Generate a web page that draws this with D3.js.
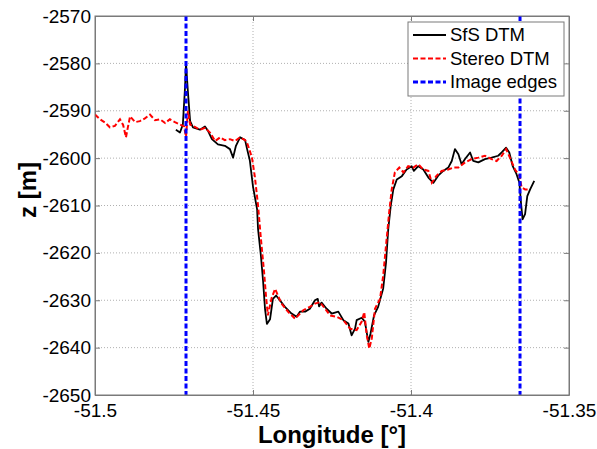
<!DOCTYPE html>
<html>
<head>
<meta charset="utf-8">
<script src="https://cdn.jsdelivr.net/npm/d3@7/dist/d3.min.js"></script>
<style>
html,body{margin:0;padding:0;background:#fff;}
svg{display:block;font-family:"Liberation Sans",Arial,sans-serif;}
</style>
</head>
<body>
<svg id="chart" width="597" height="449"></svg>
<script>
// ---- data ----
const xTicks = [-51.5, -51.45, -51.4, -51.35];
const xTickLabels = ["-51.5", "-51.45", "-51.4", "-51.35"];
const yTicks = [-2650, -2640, -2630, -2620, -2610, -2600, -2590, -2580, -2570];
const seriesNames = ["SfS DTM", "Stereo DTM", "Image edges"];
const imageEdges = [-51.4712, -51.3655];

const sfsLon = [-51.4744,-51.4731,-51.4722,-51.4715,-51.4712,-51.4706,-51.4699,-51.4690,-51.4668,-51.4652,-51.4642,-51.4630,-51.4611,-51.4589,-51.4573,-51.4563,-51.4554,-51.4541,-51.4525,-51.4519,-51.4510,-51.4500,-51.4487,-51.4484,-51.4475,-51.4468,-51.4462,-51.4456,-51.4446,-51.4437,-51.4427,-51.4415,-51.4399,-51.4378,-51.4362,-51.4351,-51.4335,-51.4320,-51.4304,-51.4295,-51.4291,-51.4283,-51.4267,-51.4251,-51.4230,-51.4214,-51.4198,-51.4188,-51.4177,-51.4172,-51.4156,-51.4146,-51.4135,-51.4128,-51.4117,-51.4104,-51.4088,-51.4079,-51.4072,-51.4064,-51.4056,-51.4045,-51.4029,-51.4014,-51.3998,-51.3991,-51.3977,-51.3961,-51.3945,-51.3929,-51.3914,-51.3898,-51.3882,-51.3871,-51.3861,-51.3850,-51.3840,-51.3829,-51.3813,-51.3803,-51.3787,-51.3766,-51.3745,-51.3724,-51.3713,-51.3699,-51.3689,-51.3678,-51.3666,-51.3657,-51.3652,-51.3647,-51.3639,-51.3632,-51.3623,-51.3610];
const sfsZ = [-2594.0,-2594.6,-2592.9,-2585.0,-2580.0,-2586.0,-2592.2,-2593.5,-2594.0,-2593.3,-2594.3,-2596.0,-2597.1,-2597.4,-2598.1,-2599.9,-2597.4,-2595.6,-2596.2,-2598.0,-2600.5,-2606.0,-2610.8,-2615.0,-2620.6,-2626.0,-2631.8,-2635.0,-2634.0,-2629.7,-2629.0,-2630.0,-2631.4,-2632.8,-2633.5,-2632.4,-2632.4,-2631.8,-2630.0,-2629.7,-2631.3,-2630.5,-2631.8,-2632.8,-2632.4,-2634.2,-2634.9,-2637.4,-2636.0,-2634.2,-2633.7,-2634.5,-2638.8,-2637.0,-2633.2,-2631.4,-2627.5,-2622.0,-2615.0,-2610.0,-2606.6,-2604.5,-2603.8,-2602.4,-2601.7,-2602.7,-2601.7,-2602.4,-2604.1,-2605.2,-2603.7,-2602.7,-2602.0,-2600.6,-2598.1,-2599.2,-2601.3,-2600.2,-2598.8,-2600.6,-2600.9,-2600.2,-2599.9,-2599.5,-2598.8,-2597.8,-2598.8,-2601.7,-2603.4,-2605.2,-2609.4,-2612.9,-2611.8,-2608.0,-2606.6,-2604.8];

const stereoLon = [-51.5000,-51.4984,-51.4968,-51.4953,-51.4937,-51.4921,-51.4911,-51.4902,-51.4896,-51.4889,-51.4873,-51.4858,-51.4842,-51.4826,-51.4810,-51.4794,-51.4778,-51.4763,-51.4747,-51.4731,-51.4718,-51.4712,-51.4706,-51.4699,-51.4684,-51.4668,-51.4652,-51.4636,-51.4620,-51.4604,-51.4589,-51.4573,-51.4557,-51.4541,-51.4525,-51.4519,-51.4510,-51.4503,-51.4494,-51.4484,-51.4475,-51.4465,-51.4459,-51.4453,-51.4441,-51.4430,-51.4421,-51.4410,-51.4388,-51.4367,-51.4341,-51.4320,-51.4304,-51.4288,-51.4272,-51.4256,-51.4235,-51.4214,-51.4193,-51.4172,-51.4156,-51.4148,-51.4140,-51.4132,-51.4124,-51.4114,-51.4098,-51.4088,-51.4077,-51.4069,-51.4061,-51.4051,-51.4037,-51.4024,-51.4009,-51.3993,-51.3977,-51.3961,-51.3945,-51.3934,-51.3919,-51.3903,-51.3882,-51.3866,-51.3850,-51.3829,-51.3808,-51.3787,-51.3766,-51.3745,-51.3729,-51.3713,-51.3699,-51.3687,-51.3671,-51.3657,-51.3650,-51.3639,-51.3623];
const stereoZ = [-2590.8,-2591.8,-2592.5,-2593.5,-2593.2,-2591.8,-2593.0,-2595.6,-2593.5,-2591.2,-2592.4,-2592.2,-2591.6,-2590.8,-2592.0,-2591.8,-2592.6,-2591.8,-2592.4,-2592.9,-2593.3,-2595.6,-2590.0,-2592.9,-2593.4,-2594.0,-2593.6,-2594.6,-2596.4,-2595.6,-2596.2,-2596.0,-2596.4,-2595.6,-2596.2,-2596.7,-2598.5,-2600.0,-2604.0,-2610.0,-2617.0,-2624.0,-2629.0,-2633.2,-2629.5,-2627.6,-2629.0,-2630.7,-2632.5,-2633.9,-2632.1,-2631.4,-2630.7,-2630.4,-2631.8,-2633.2,-2633.5,-2634.2,-2636.0,-2636.3,-2634.5,-2632.5,-2637.4,-2640.2,-2638.0,-2631.8,-2629.7,-2624.8,-2617.0,-2611.4,-2606.6,-2603.0,-2602.0,-2603.0,-2601.7,-2602.0,-2601.3,-2602.4,-2602.7,-2605.2,-2603.7,-2602.7,-2602.4,-2602.0,-2602.0,-2600.9,-2600.2,-2599.9,-2599.5,-2600.2,-2600.6,-2599.5,-2598.1,-2599.9,-2602.4,-2603.7,-2606.2,-2606.6,-2606.6];

// ---- layout ----
const svg = d3.select("#chart");
const L = 95, R = 569, T = 16, B = 395;
const x = d3.scaleLinear().domain([-51.5, -51.35]).range([L, R]);
const y = d3.scaleLinear().domain([-2650, -2570]).range([B, T]);
const gridColor = "#b0b0b0", axisColor = "#7a7a7a";

// grid
const grid = svg.append("g");
grid.selectAll("line.vx").data(xTicks.slice(1, -1)).join("line")
  .attr("x1", d => x(d)).attr("x2", d => x(d)).attr("y1", T).attr("y2", B)
  .attr("stroke", gridColor).attr("stroke-width", 1).attr("stroke-dasharray", "1,2");
grid.selectAll("line.hy").data(yTicks.slice(1, -1)).join("line")
  .attr("x1", L).attr("x2", R).attr("y1", d => y(d)).attr("y2", d => y(d))
  .attr("stroke", gridColor).attr("stroke-width", 1).attr("stroke-dasharray", "1,2");

// axes (ticks inward on all sides)
function styleAxis(g) {
  g.selectAll("path").attr("stroke", axisColor);
  g.selectAll("line").attr("stroke", axisColor);
  g.selectAll("text").attr("fill", "#000").style("font-size", "19px")
    .style("font-family", '"Liberation Sans", Arial, sans-serif');
}
const xAxis = svg.append("g").attr("transform", `translate(0,${B})`)
  .call(d3.axisBottom(x).tickValues(xTicks).tickFormat((d, i) => xTickLabels[i]).tickSizeInner(-5).tickSizeOuter(0));
styleAxis(xAxis);
xAxis.selectAll("text").attr("y", 22).attr("dy", null);
const xAxisTop = svg.append("g").attr("transform", `translate(0,${T})`)
  .call(d3.axisTop(x).tickValues(xTicks).tickFormat("").tickSizeInner(-5).tickSizeOuter(0));
styleAxis(xAxisTop);
const yAxis = svg.append("g").attr("transform", `translate(${L},0)`)
  .call(d3.axisLeft(y).tickValues(yTicks).tickFormat(d3.format("d")).tickSizeInner(-5).tickSizeOuter(0).tickPadding(4));
styleAxis(yAxis);
const yAxisR = svg.append("g").attr("transform", `translate(${R},0)`)
  .call(d3.axisRight(y).tickValues(yTicks).tickFormat("").tickSizeInner(-5).tickSizeOuter(0));
styleAxis(yAxisR);
yAxis.selectAll("text").text(d => String(d));

// clip
svg.append("clipPath").attr("id", "clip").append("rect")
  .attr("x", L).attr("y", T).attr("width", R - L).attr("height", B - T);

const line = d3.line().x(d => x(d[0])).y(d => y(d[1]));
const sfs = sfsLon.map((v, i) => [v, sfsZ[i]]);
const stereo = stereoLon.map((v, i) => [v, stereoZ[i]]);

const plot = svg.append("g").attr("clip-path", "url(#clip)");
plot.append("path").datum(sfs).attr("d", line)
  .attr("fill", "none").attr("stroke", "#000").attr("stroke-width", 1.8).attr("stroke-linejoin", "round");
plot.append("path").datum(stereo).attr("d", line)
  .attr("fill", "none").attr("stroke", "#ff0000").attr("stroke-width", 2).attr("stroke-dasharray", "5,2.5");
plot.selectAll("line.edge").data(imageEdges).join("line")
  .attr("x1", d => x(d)).attr("x2", d => x(d)).attr("y1", T).attr("y2", B)
  .attr("stroke", "#0000ff").attr("stroke-width", 3).attr("stroke-dasharray", "5,2.5");

// box border
svg.append("rect").attr("x", L).attr("y", T).attr("width", R - L).attr("height", B - T)
  .attr("fill", "none").attr("stroke", axisColor).attr("stroke-width", 1);

// axis labels
svg.append("text").attr("x", (L + R) / 2).attr("y", 443)
  .attr("text-anchor", "middle").style("font-size", "24px").style("font-weight", "bold")
  .text("Longitude [°]");
svg.append("text").attr("transform", "translate(36,190) rotate(-90)")
  .attr("text-anchor", "middle").style("font-size", "24px").style("font-weight", "bold")
  .text("z [m]");

// legend
const lg = svg.append("g");
lg.append("rect").attr("x", 408).attr("y", 22).attr("width", 156).attr("height", 74)
  .attr("fill", "#fff").attr("stroke", axisColor).attr("stroke-width", 1);
const legendStyles = [
  {stroke: "#000", dash: null, w: 1.8},
  {stroke: "#ff0000", dash: "5,2.5", w: 2},
  {stroke: "#0000ff", dash: "5,2.5", w: 3}
];
seriesNames.forEach((name, i) => {
  const yy = 35 + i * 23.5;
  lg.append("line").attr("x1", 413).attr("x2", 446).attr("y1", yy).attr("y2", yy)
    .attr("stroke", legendStyles[i].stroke).attr("stroke-width", legendStyles[i].w)
    .attr("stroke-dasharray", legendStyles[i].dash);
  lg.append("text").attr("x", 450).attr("y", yy).attr("dy", "0.35em")
    .style("font-size", "18.5px").text(name);
});
</script>
</body>
</html>
